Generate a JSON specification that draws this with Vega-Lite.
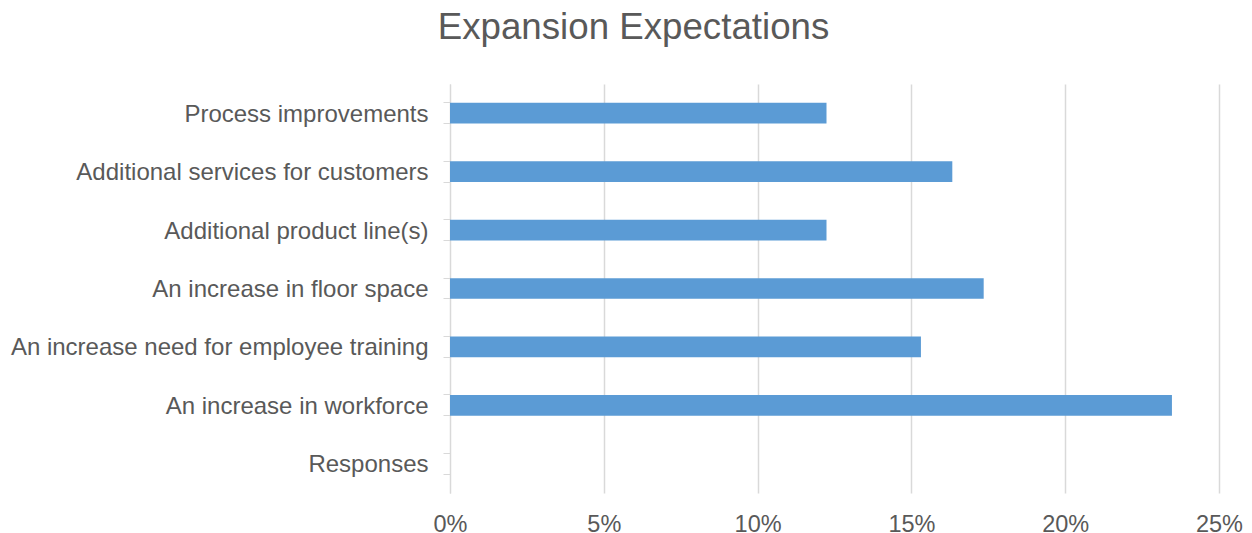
{
  "$schema": "https://vega.github.io/schema/vega-lite/v6.json",
  "width": 769,
  "height": 409,
  "autosize": "none",
  "padding": {"left": 450, "top": 84, "right": 33, "bottom": 40},
  "background": "#ffffff",
  "config": {
    "font": "Liberation Sans",
    "view": {"stroke": null}
  },
  "title": {
    "text": "Expansion Expectations",
    "font": "Liberation Sans",
    "fontSize": 36.7,
    "fontWeight": "normal",
    "color": "#595959",
    "anchor": "middle",
    "frame": "group",
    "baseline": "alphabetic",
    "dx": -201,
    "offset": 8
  },
  "data": {
    "values": [
      {"category": "Process improvements", "value": 0.1224},
      {"category": "Additional services for customers", "value": 0.1633},
      {"category": "Additional product line(s)", "value": 0.1224},
      {"category": "An increase in floor space", "value": 0.1735},
      {"category": "An increase need for employee training", "value": 0.1531},
      {"category": "An increase in workforce", "value": 0.2347},
      {"category": "Responses", "value": 0}
    ]
  },
  "resolve": {"axis": {"y": "independent"}},
  "layer": [
    {
      "mark": {"type": "bar", "color": "#5b9bd5"},
      "encoding": {
        "y": {
          "field": "category",
          "type": "nominal",
          "sort": ["Process improvements", "Additional services for customers", "Additional product line(s)", "An increase in floor space", "An increase need for employee training", "An increase in workforce", "Responses"],
          "scale": {"paddingInner": 0.645, "paddingOuter": 0.3225},
          "axis": {
            "orient": "left",
            "title": null,
            "ticks": false,
            "tickSize": 0,
            "labelPadding": 22,
            "labelOffset": 1.5,
            "labelFontSize": 24,
            "labelFont": "Liberation Sans",
            "labelColor": "#595959",
            "labelLimit": 600,
            "domain": true,
            "domainColor": "#d9d9d9",
            "domainWidth": 1,
            "grid": false
          }
        },
        "x": {
          "field": "value",
          "type": "quantitative",
          "scale": {"domain": [0, 0.25], "nice": false},
          "axis": {
            "title": null,
            "values": [0, 0.05, 0.1, 0.15, 0.2, 0.25],
            "format": ".0%",
            "ticks": false,
            "tickSize": 0,
            "labelFlush": false,
            "labelPadding": 19,
            "labelFontSize": 23.5,
            "labelFont": "Liberation Sans",
            "labelColor": "#595959",
            "domain": false,
            "grid": true,
            "gridColor": "#d9d9d9",
            "gridWidth": 1.5
          }
        }
      }
    },
    {
      "mark": {"type": "point", "opacity": 0},
      "encoding": {
        "y": {
          "field": "category",
          "type": "nominal",
          "sort": ["Process improvements", "Additional services for customers", "Additional product line(s)", "An increase in floor space", "An increase need for employee training", "An increase in workforce", "Responses"],
          "axis": {
            "orient": "left",
            "title": null,
            "labels": false,
            "domain": false,
            "grid": false,
            "ticks": true,
            "tickSize": 7,
            "tickColor": "#d9d9d9",
            "tickWidth": 1,
            "bandPosition": 0
          }
        }
      }
    },
    {
      "mark": {"type": "point", "opacity": 0},
      "encoding": {
        "y": {
          "field": "category",
          "type": "nominal",
          "sort": ["Process improvements", "Additional services for customers", "Additional product line(s)", "An increase in floor space", "An increase need for employee training", "An increase in workforce", "Responses"],
          "axis": {
            "orient": "left",
            "title": null,
            "labels": false,
            "domain": false,
            "grid": false,
            "ticks": true,
            "tickSize": 7,
            "tickColor": "#d9d9d9",
            "tickWidth": 1,
            "bandPosition": 1
          }
        }
      }
    }
  ]
}
